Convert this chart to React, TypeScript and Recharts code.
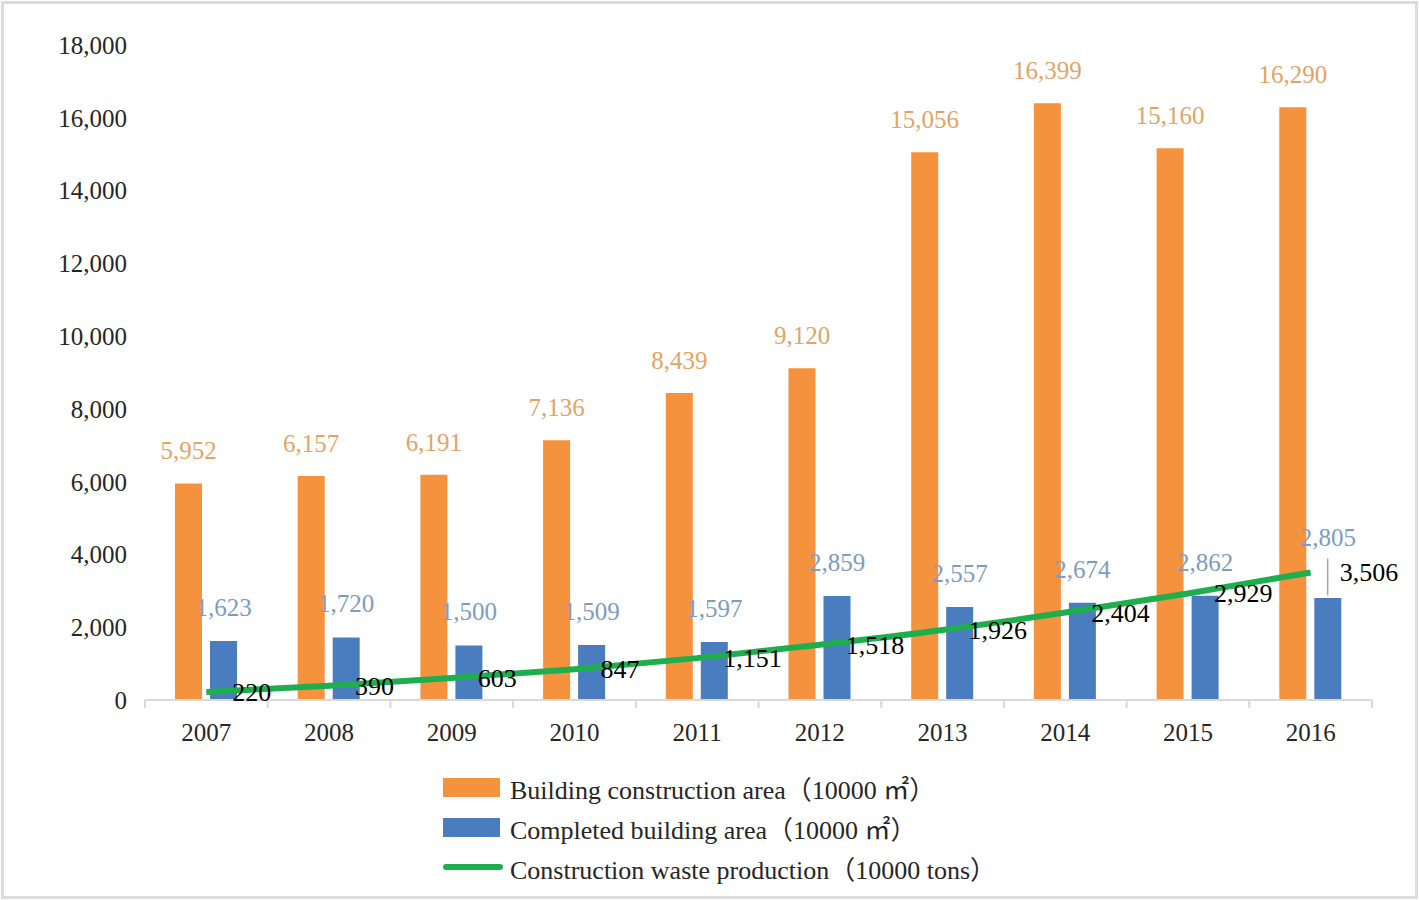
import React from 'react';
import { ComposedChart, Bar, Line, XAxis, YAxis, Legend, LabelList } from 'recharts';

const years = ['2007', '2008', '2009', '2010', '2011', '2012', '2013', '2014', '2015', '2016'];
const constructionArea = [5952, 6157, 6191, 7136, 8439, 9120, 15056, 16399, 15160, 16290];
const completedArea = [1623, 1720, 1500, 1509, 1597, 2859, 2557, 2674, 2862, 2805];
const wasteProduction = [220, 390, 603, 847, 1151, 1518, 1926, 2404, 2929, 3506];
const yTicks = [0, 2000, 4000, 6000, 8000, 10000, 12000, 14000, 16000, 18000];

const seriesNames = {
  construction: 'Building construction area（10000 ㎡）',
  completed: 'Completed building area（10000 ㎡）',
  waste: 'Construction waste production（10000 tons）',
};

const data = years.map((year, i) => ({
  year,
  construction: constructionArea[i],
  completed: completedArea[i],
  waste: wasteProduction[i],
}));

const W = 1419;
const H = 900;
const MARGIN = { top: 45, right: 47, bottom: 140, left: 0 };
const YAXIS_W = 145;
const PLOT_W = W - MARGIN.left - MARGIN.right - YAXIS_W;
const BAND = PLOT_W / years.length;

const FONT = '"Liberation Serif", "Times New Roman", "Noto Sans CJK SC", serif';
const ORANGE = '#F5923E';
const BLUE = '#4A7DC0';
const GREEN = '#1FAE4E';
const ORANGE_TXT = '#E2A466';
const BLUE_TXT = '#7C9CC0';
const TXT = '#262626';
const AXIS = '#D9D9D9';

const fmt = (v: number) => Number(v).toLocaleString('en-US');

const XTick = (props: any) => {
  const { x, y, payload, index, visibleTicksCount } = props;
  const last = index === (visibleTicksCount ?? years.length) - 1;
  return (
    <g>
      <line x1={x - BAND / 2} x2={x - BAND / 2} y1={y} y2={y + 8} stroke={AXIS} strokeWidth={2} />
      {last && <line x1={x + BAND / 2} x2={x + BAND / 2} y1={y} y2={y + 8} stroke={AXIS} strokeWidth={2} />}
      <text x={x} y={y + 41} textAnchor="middle" fontSize={25} fontFamily={FONT} fill={TXT}>
        {payload.value}
      </text>
    </g>
  );
};

const OrangeLabel = (props: any) => {
  const { x, y, width, value } = props;
  return (
    <text x={x + width / 2} y={y - 24} textAnchor="middle" fontSize={25} fontFamily={FONT} fill={ORANGE_TXT}>
      {fmt(value)}
    </text>
  );
};

const BlueLabel = (props: any) => {
  const { x, y, width, value, index } = props;
  const extra = index === years.length - 1 ? 27 : 0;
  return (
    <text x={x + width / 2} y={y - 25 - extra} textAnchor="middle" fontSize={25} fontFamily={FONT} fill={BLUE_TXT}>
      {fmt(value)}
    </text>
  );
};

const LineLabel = (props: any) => {
  const { x, y, value, index } = props;
  const last = index === years.length - 1;
  return (
    <g>
      {last && <line x1={x + 17} x2={x + 17} y1={y - 14} y2={y + 23} stroke="#A6A6A6" strokeWidth={1.5} />}
      <text x={x + (last ? 29 : 26)} y={y + 9} textAnchor="start" fontSize={26} fontFamily={FONT} fill="#000">
        {fmt(value)}
      </text>
    </g>
  );
};

const LegendContent = () => {
  const rows = [
    { key: 'construction', color: ORANGE, type: 'rect' },
    { key: 'completed', color: BLUE, type: 'rect' },
    { key: 'waste', color: GREEN, type: 'line' },
  ];
  return (
    <div style={{ fontFamily: FONT, fontSize: 26, color: TXT }}>
      {rows.map((r) => (
        <div key={r.key} style={{ display: 'flex', alignItems: 'center', height: 40 }}>
          <div style={{ width: 67, display: 'flex', alignItems: 'center' }}>
            {r.type === 'rect' ? (
              <div style={{ width: 57, height: 19, background: r.color }} />
            ) : (
              <div style={{ width: 60, height: 6, borderRadius: 3, background: r.color }} />
            )}
          </div>
          <span style={{ whiteSpace: 'nowrap' }}>{(seriesNames as any)[r.key]}</span>
        </div>
      ))}
    </div>
  );
};

export default function App() {
  return (
    <div style={{ position: 'absolute', left: 0, top: 0, width: W, height: H, background: '#fff' }}>
      <div
        style={{
          position: 'absolute',
          left: 1,
          top: 1,
          width: W - 8,
          height: H - 8,
          border: '3px solid #DCDCDC',
          boxSizing: 'content-box',
        }}
      />
      <div style={{ position: 'absolute', left: 0, top: 0 }}>
        <ComposedChart width={W} height={H} data={data} margin={MARGIN} barSize={27} barGap={8}>
          <XAxis
            dataKey="year"
            axisLine={{ stroke: AXIS, strokeWidth: 2 }}
            tickLine={false}
            tickSize={0}
            tickMargin={0}
            height={60}
            tick={<XTick />}
            interval={0}
          />
          <YAxis
            width={YAXIS_W}
            domain={[0, 18000]}
            ticks={yTicks}
            axisLine={false}
            tickLine={false}
            tickSize={0}
            tickMargin={18}
            tickFormatter={fmt}
            tick={{ fontSize: 25, fontFamily: FONT, fill: TXT }}
            interval={0}
          />
          <Legend
            layout="vertical"
            verticalAlign="middle"
            align="center"
            wrapperStyle={{ left: 443, top: 767, width: 640 }}
            content={<LegendContent />}
          />
          <Bar dataKey="construction" name={seriesNames.construction} fill={ORANGE} isAnimationActive={false}>
            <LabelList dataKey="construction" content={<OrangeLabel />} />
          </Bar>
          <Bar dataKey="completed" name={seriesNames.completed} fill={BLUE} isAnimationActive={false}>
            <LabelList dataKey="completed" content={<BlueLabel />} />
          </Bar>
          <Line
            dataKey="waste"
            name={seriesNames.waste}
            type="monotone"
            stroke={GREEN}
            strokeWidth={6}
            dot={false}
            isAnimationActive={false}
          >
            <LabelList dataKey="waste" content={<LineLabel />} />
          </Line>
        </ComposedChart>
      </div>
    </div>
  );
}
